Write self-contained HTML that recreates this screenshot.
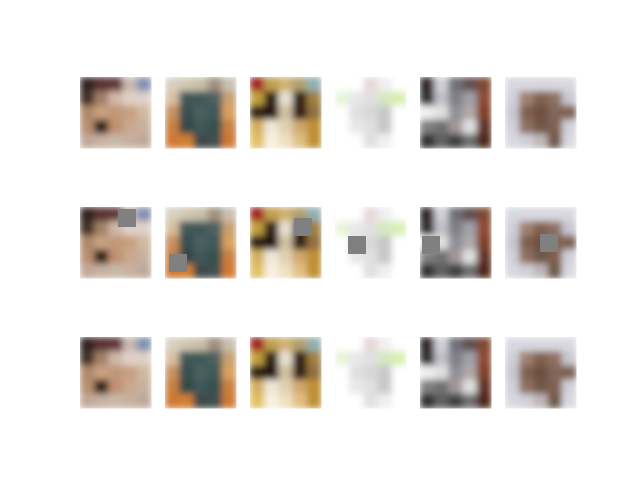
<!DOCTYPE html>
<html><head><meta charset="utf-8"><style>
html,body{margin:0;padding:0;background:#fff;}
svg{display:block;font-family:"Liberation Sans",sans-serif;}
</style></head><body>
<svg id="fig" width="640" height="480" viewBox="0 0 640 480">
<defs>
<filter id="soft" x="0" y="0" width="1" height="1"><feGaussianBlur stdDeviation="3.5" edgeMode="duplicate"/></filter>
</defs>
</svg>
<script>
const colX = [80,165,250,335,420,505];
const rowY = [77,207,337];
const imgSize = 71;
const images = [
 [["#302020","#5a3030","#603838","#c8b8b0","#8090b0"],["#403028","#a08068","#d0b8a8","#e0d0c8","#e0d0c8"],["#b08868","#c8a080","#c09878","#c8a080","#d0b8a0"],["#b89070","#302018","#c09070","#c8a890","#c8b0a0"],["#c0a898","#c8b0a0","#c8b8a8","#c8b0a0","#c0a898"]],
 [["#d8d0c0","#d0c8b0","#c8c0a8","#a09080","#c8c0b0"],["#d8c0a0","#405858","#405858","#506060","#c8a070"],["#c89060","#385050","#486060","#405858","#d8a060"],["#c88040","#304848","#405858","#385050","#c88040"],["#d07830","#d08030","#404848","#405050","#d07830"]],
 [["#a02020","#c0a050","#d0b070","#b0a070","#90b0b0"],["#c0a040","#302018","#e8e0d0","#302018","#a08040"],["#302018","#201818","#d0c0a0","#302018","#907040"],["#d0b060","#f0e8d8","#e0d0b0","#d0a870","#c09030"],["#e0c060","#f8f0e0","#f0e0c0","#e0c080","#c09030"]],
 [["#ffffff","#ffffff","#e8d8d8","#f0f0f0","#ffffff"],["#e8f4d8","#e8e8e8","#e0e0e0","#d8e8c0","#d8f0b0"],["#ffffff","#e0e0e0","#d8d8d8","#c8c8c8","#ffffff"],["#ffffff","#e8e8e8","#e0e0e0","#c8c8c8","#ffffff"],["#ffffff","#ffffff","#e0e0e0","#f0f0f0","#ffffff"]],
 [["#302828","#d0d0d8","#707078","#605050","#804830"],["#303030","#c0c0c8","#808088","#a0a0a8","#904830"],["#f0f0f0","#e0e0e0","#909098","#b0a8a8","#804020"],["#808080","#707070","#a09898","#e0e0e0","#603020"],["#303030","#606060","#404040","#707070","#502818"]],
 [["#d8d8e0","#d8d8e0","#d8d8e0","#d8d8e0","#d8d8e0"],["#d0d0d8","#a08070","#806050","#907060","#c8c8d0"],["#c8c8d0","#806050","#705040","#806858","#806050"],["#d0d0d8","#907060","#705848","#806050","#d0d0d8"],["#d8d8e0","#d0d0d8","#c0b8b8","#705848","#d8d8e0"]]
];
// occlusion patch positions (top-left, relative to image) for row 2
const patchDX = [38,4,44,13,2,35];
const patchDY = [2,47,11,29,29,27];
const patchSize = 18;
const NS = "http://www.w3.org/2000/svg";
const svg = document.getElementById('fig');
rowY.forEach((y, r) => {
  colX.forEach((x, c) => {
    const g = document.createElementNS(NS, 'g');
    
    
    const inner = document.createElementNS(NS, 'g');
    inner.setAttribute('filter', 'url(#soft)');
    const grid = images[c];
    const n = grid.length, cell = imgSize / n;
    grid.forEach((row, i) => row.forEach((col, j) => {
      const rc = document.createElementNS(NS, 'rect');
      rc.setAttribute('x', x + j*cell); rc.setAttribute('y', y + i*cell);
      rc.setAttribute('width', cell+0.5); rc.setAttribute('height', cell+0.5);
      rc.setAttribute('fill', col);
      inner.appendChild(rc);
    }));
    g.appendChild(inner);
    if (r === 1) {
      const p = document.createElementNS(NS, 'rect');
      
      
      p.setAttribute('x', x + patchDX[c]); p.setAttribute('y', y + patchDY[c]);
      p.setAttribute('width', patchSize); p.setAttribute('height', patchSize);
      p.setAttribute('fill', '#808080');
      g.appendChild(p);
    }
    svg.appendChild(g);
  });
});
</script>
</body></html>
